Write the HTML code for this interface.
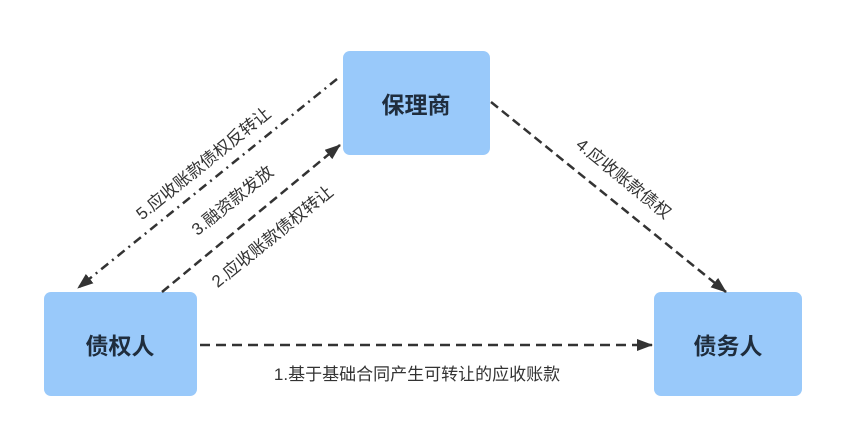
<!DOCTYPE html>
<html><head><meta charset="utf-8"><style>
body{margin:0;background:#fff;width:847px;height:440px;overflow:hidden;font-family:"Liberation Sans","Noto Sans CJK SC",sans-serif}
</style></head><body>
<svg width="847" height="440" viewBox="0 0 847 440" xmlns="http://www.w3.org/2000/svg">
<defs>
<marker id="b" markerWidth="16" markerHeight="12" refX="15" refY="6" orient="auto" markerUnits="userSpaceOnUse" viewBox="0 0 16 12"><path d="M0,0 L16,6 L0,12 z" fill="#333"/></marker></defs>
<g font-family="Liberation Sans, Noto Sans CJK SC, sans-serif">
<rect x="343" y="51" width="147" height="104" rx="7" fill="#99c9fa"/>
<rect x="44" y="292" width="153" height="104" rx="7" fill="#99c9fa"/>
<rect x="654" y="292" width="148" height="104" rx="7" fill="#99c9fa"/>
<text x="416" y="113" font-size="23" font-weight="bold" fill="#1f2d3d" text-anchor="middle">保理商</text>
<text x="120" y="354" font-size="23" font-weight="bold" fill="#1f2d3d" text-anchor="middle">债权人</text>
<text x="728" y="354" font-size="23" font-weight="bold" fill="#1f2d3d" text-anchor="middle">债务人</text>
<g stroke="#333" stroke-width="2.5" fill="none">
<line x1="337" y1="79" x2="78" y2="288" stroke-dasharray="9 5 2 5" marker-end="url(#b)"/>
<line x1="162" y1="292" x2="340" y2="145" stroke-dasharray="9 5" marker-end="url(#b)"/>
<line x1="491" y1="102" x2="726" y2="292" stroke-dasharray="9 5" marker-end="url(#b)"/>
<line x1="200" y1="345" x2="652" y2="345" stroke-dasharray="10 6" marker-end="url(#b)"/>
</g>
<g font-size="17" fill="#333" text-anchor="middle">
<text transform="translate(207,168) rotate(-39)">5.应收账款债权反转让</text>
<text transform="translate(236,205) rotate(-39)">3.融资款发放</text>
<text transform="translate(276,241) rotate(-39)">2.应收账款债权转让</text>
<text transform="translate(620,183) rotate(39)">4.应收账款债权</text>
<text x="417" y="380">1.基于基础合同产生可转让的应收账款</text>
</g>
</g>
</svg>
</body></html>
